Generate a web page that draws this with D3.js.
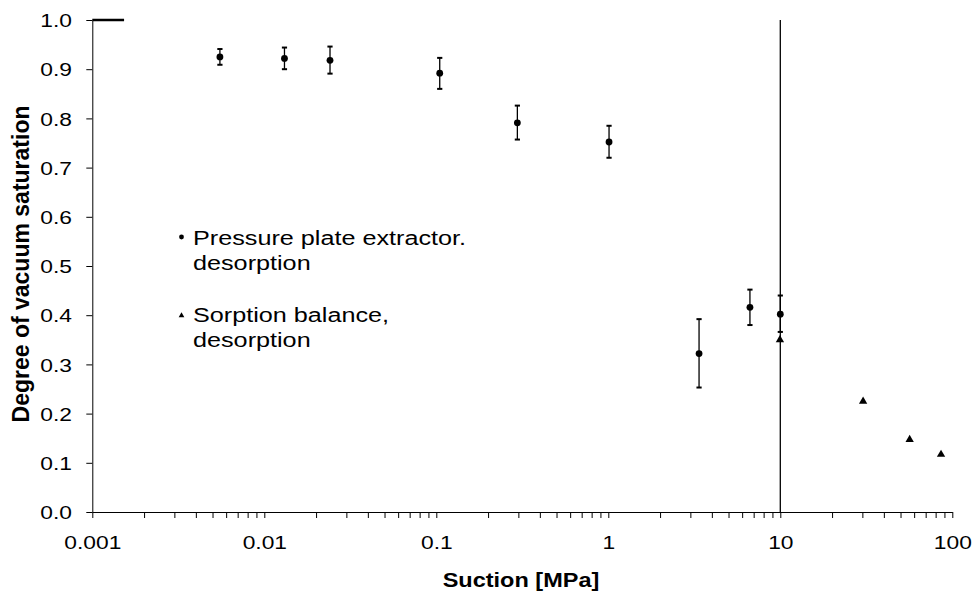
<!DOCTYPE html>
<html>
<head>
<meta charset="utf-8">
<script src="https://cdn.jsdelivr.net/npm/d3@7"></script>
<style>
  html, body { margin: 0; padding: 0; background: #fff; }
  svg { display: block; font-family: "Liberation Sans", Arial, sans-serif; }
</style>
</head>
<body>
<svg id="chart" width="976" height="599"></svg>
<script>
// ---- data ----
const ppeSuction = [0.00552, 0.0131, 0.0241, 0.1047, 0.296, 1.01, 3.37, 6.66, 10];
const ppeSat     = [0.925, 0.922, 0.918, 0.892, 0.791, 0.752, 0.322, 0.416, 0.402];
const ppeHigh    = [0.941, 0.944, 0.946, 0.923, 0.826, 0.785, 0.392, 0.452, 0.440];
const ppeLow     = [0.909, 0.900, 0.891, 0.860, 0.757, 0.720, 0.253, 0.380, 0.366];
const sbSuction  = [9.95, 30.3, 56.5, 86];
const sbSat      = [0.350, 0.225, 0.147, 0.117];
const refSuction = [0.001, 0.00153];
const refSat     = [1, 1];
const vlineSuction = 10;
const yTicks = [0, 0.1, 0.2, 0.3, 0.4, 0.5, 0.6, 0.7, 0.8, 0.9, 1.0];
const xTicks = [0.001, 0.01, 0.1, 1, 10, 100];
const xTickLabels = ["0.001", "0.01", "0.1", "1", "10", "100"];
const legendLabels = [["Pressure plate extractor.", "desorption"], ["Sorption balance,", "desorption"]];
const xTitle = "Suction [MPa]";
const yTitle = "Degree of vacuum saturation";

// ---- scales ----
const svg = d3.select("#chart");
const x = d3.scaleLog().domain([0.001, 100]).range([92.3, 952.3]);
const y = d3.scaleLinear().domain([0, 1]).range([512, 20]);
const ink = "#000";

// minor ticks
const minor = [];
for (let e = -3; e < 2; e++) for (let m = 2; m <= 9; m++) minor.push(m * Math.pow(10, e));

// x axis
const xAxis = d3.axisBottom(x).tickValues(xTicks.concat(minor)).tickSize(6).tickSizeOuter(0)
  .tickFormat(d => { const i = xTicks.indexOf(d); return i >= 0 ? xTickLabels[i] : ""; });
const gx = svg.append("g").attr("transform", `translate(0,${y(0)})`).call(xAxis);
gx.select(".domain").attr("stroke", ink);
gx.selectAll(".tick line").attr("stroke", ink);
gx.selectAll(".tick text").attr("fill", ink).attr("font-size", 19).attr("y", 24)
  .attr("transform", "scale(1.2,1)").attr("x", 0);

// y axis
const yAxis = d3.axisLeft(y).tickValues(yTicks).tickSize(6).tickSizeOuter(0).tickFormat(d3.format(".1f"));
const gy = svg.append("g").attr("transform", `translate(${x(0.001)},0)`).call(yAxis);
gy.select(".domain").attr("stroke", ink);
gy.selectAll(".tick line").attr("stroke", ink);
gy.selectAll(".tick text").attr("fill", ink).attr("font-size", 19)
  .attr("x", -17).attr("dy", "0.35em").attr("transform", "scale(1.2,1)");

// vertical reference line at 10 MPa
svg.append("line")
  .attr("x1", x(vlineSuction)).attr("x2", x(vlineSuction))
  .attr("y1", y(1)).attr("y2", y(0))
  .attr("stroke", ink).attr("stroke-width", 1.3);

// thick top line
svg.append("path")
  .datum(refSuction.map((s, i) => [s, refSat[i]]))
  .attr("d", d3.line().x(d => x(d[0])).y(d => y(d[1])))
  .attr("stroke", ink).attr("stroke-width", 2.5).attr("fill", "none");

// error bars
const ppe = ppeSuction.map((s, i) => ({ s, v: ppeSat[i], hi: ppeHigh[i], lo: ppeLow[i] }));
const eb = svg.append("g");
ppe.forEach(d => {
  const cx = x(d.s);
  eb.append("line").attr("x1", cx).attr("x2", cx).attr("y1", y(d.hi)).attr("y2", y(d.lo))
    .attr("stroke", ink).attr("stroke-width", 1.3);
  [d.hi, d.lo].forEach(v => {
    eb.append("line").attr("x1", cx - 2.6).attr("x2", cx + 2.6).attr("y1", y(v)).attr("y2", y(v))
      .attr("stroke", ink).attr("stroke-width", 2);
  });
});

// circles
svg.append("g").selectAll("circle").data(ppe).join("circle")
  .attr("cx", d => x(d.s)).attr("cy", d => y(d.v)).attr("r", 3.4).attr("fill", ink);

// triangles
const tri = d3.symbol().type(d3.symbolTriangle).size(30);
svg.append("g").selectAll("path").data(sbSuction.map((s, i) => ({ s, v: sbSat[i] }))).join("path")
  .attr("d", tri).attr("transform", d => `translate(${x(d.s)},${y(d.v)})`).attr("fill", ink);

// legend
const leg = svg.append("g");
leg.append("circle").attr("cx", 181.5).attr("cy", 237).attr("r", 2.4).attr("fill", ink);
leg.append("path").attr("d", d3.symbol().type(d3.symbolTriangle).size(14)).attr("transform", "translate(181.5,315.5)").attr("fill", ink);
const legBase = [244.5, 321.5];
legendLabels.forEach((lines, i) => {
  lines.forEach((t, j) => {
    leg.append("text").attr("transform", `translate(193,${legBase[i] + j * 25.2}) scale(1.2,1)`)
      .attr("font-size", 21).attr("fill", ink).text(t);
  });
});

// axis titles
svg.append("text").attr("transform", "translate(521,587) scale(1.12,1)").attr("text-anchor", "middle")
  .attr("font-size", 21).attr("font-weight", "bold").attr("fill", ink).text(xTitle);
svg.append("text").attr("transform", "translate(29,264) rotate(-90)").attr("text-anchor", "middle")
  .attr("font-size", 23).attr("font-weight", "bold").attr("fill", ink).text(yTitle);
</script>
</body>
</html>
